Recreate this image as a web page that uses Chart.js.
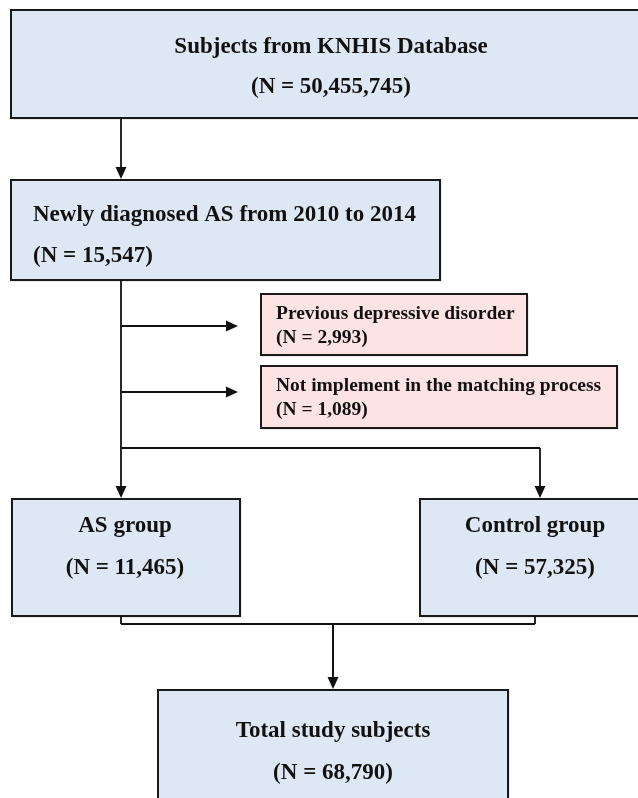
<!DOCTYPE html>
<html>
<head>
<meta charset="utf-8">
<script src="https://cdn.jsdelivr.net/npm/chart.js@4.4.1/dist/chart.umd.min.js"></script>
<style>
html,body{margin:0;padding:0;background:#fff;overflow:hidden;}
#c{display:block;}
</style>
</head>
<body>
<canvas id="c" width="638" height="798"></canvas>
<script>
// ---- data ----
const stepTitles = ["Subjects from KNHIS Database", "Newly diagnosed AS from 2010 to 2014", "AS group", "Control group", "Total study subjects"];
const stepCounts = ["50,455,745", "15,547", "11,465", "57,325", "68,790"];
const exclusionTitles = ["Previous depressive disorder", "Not implement in the matching process"];
const exclusionCounts = ["2,993", "1,089"];

// ---- layout (diagram coordinates on the hidden scales) ----
const stepBoxes = [
  {x0: 11, y0: 10, x1: 652, y1: 118, align: "center", tcx: 331, ty: [47, 87]},
  {x0: 11, y0: 180, x1: 440, y1: 280, align: "left", tx: 33, ty: [215, 256]},
  {x0: 12, y0: 499, x1: 240, y1: 616, align: "center", tcx: 125, ty: [526, 568]},
  {x0: 420, y0: 499, x1: 652, y1: 616, align: "center", tcx: 535, ty: [526, 568]},
  {x0: 158, y0: 690, x1: 508, y1: 810, align: "center", tcx: 333, ty: [731, 773]}
];
const exclBoxes = [
  {x0: 261, y0: 294, x1: 527, y1: 355, tx: 276, ty: [314, 338]},
  {x0: 261, y0: 366, x1: 617, y1: 428, tx: 276, ty: [386, 410]}
];
const lines = [
  [[121, 280], [121, 448]],
  [[121, 448], [540, 448]],
  [[121, 616], [121, 624]],
  [[535, 616], [535, 624]],
  [[121, 624], [535, 624]],
  [[333, 624], [333, 676]]
];
const arrows = [
  {from: [121, 118], to: [121, 179]},
  {from: [121, 326], to: [238, 326]},
  {from: [121, 392], to: [238, 392]},
  {from: [121, 448], to: [121, 498]},
  {from: [540, 448], to: [540, 498]},
  {from: [333, 624], to: [333, 689]}
];

const diagramPlugin = {
  id: "diagram",
  afterDatasetsDraw(chart) {
    const ctx = chart.ctx;
    const xs = chart.scales.x, ys = chart.scales.y;
    const X = v => xs.getPixelForValue(v);
    const Y = v => ys.getPixelForValue(v);
    ctx.save();
    const box = (b, fill) => {
      const x = X(b.x0), y = Y(b.y0), w = X(b.x1) - x, h = Y(b.y1) - y;
      ctx.fillStyle = "rgba(0,0,0,0.18)";
      ctx.fillRect(x + 1.5, y + 1.5, w, h);
      ctx.fillStyle = fill;
      ctx.fillRect(x, y, w, h);
      ctx.strokeStyle = "#1a1a1a";
      ctx.lineWidth = 2;
      ctx.strokeRect(x, y, w, h);
    };
    stepBoxes.forEach((b, i) => {
      box(b, "#dee8f5");
      ctx.fillStyle = "#111";
      ctx.font = "bold 23px 'Liberation Serif', 'Times New Roman', serif";
      ctx.textBaseline = "middle";
      let tx;
      if (b.align === "left") { ctx.textAlign = "left"; tx = X(b.tx); }
      else { ctx.textAlign = "center"; tx = X(b.tcx); }
      ctx.fillText(stepTitles[i], tx, Y(b.ty[0]));
      ctx.fillText("(N = " + stepCounts[i] + ")", tx, Y(b.ty[1]));
    });
    exclBoxes.forEach((b, i) => {
      box(b, "#fde3e3");
      ctx.fillStyle = "#111";
      ctx.font = "bold 19.5px 'Liberation Serif', 'Times New Roman', serif";
      ctx.textBaseline = "middle";
      ctx.textAlign = "left";
      ctx.fillText(exclusionTitles[i], X(b.tx), Y(b.ty[0]));
      ctx.fillText("(N = " + exclusionCounts[i] + ")", X(b.tx), Y(b.ty[1]));
    });
    ctx.strokeStyle = "#111";
    ctx.lineWidth = 1.8;
    lines.forEach(l => {
      ctx.beginPath();
      ctx.moveTo(X(l[0][0]), Y(l[0][1]));
      ctx.lineTo(X(l[1][0]), Y(l[1][1]));
      ctx.stroke();
    });
    arrows.forEach(a => {
      const x0 = X(a.from[0]), y0 = Y(a.from[1]), x1 = X(a.to[0]), y1 = Y(a.to[1]);
      const ang = Math.atan2(y1 - y0, x1 - x0);
      const hl = 12, hw = 5.5;
      const bx = x1 - hl * Math.cos(ang), by = y1 - hl * Math.sin(ang);
      ctx.beginPath();
      ctx.moveTo(x0, y0);
      ctx.lineTo(bx, by);
      ctx.stroke();
      ctx.beginPath();
      ctx.moveTo(x1, y1);
      ctx.lineTo(bx + hw * Math.sin(ang), by - hw * Math.cos(ang));
      ctx.lineTo(bx - hw * Math.sin(ang), by + hw * Math.cos(ang));
      ctx.closePath();
      ctx.fillStyle = "#111";
      ctx.fill();
    });
    ctx.restore();
  }
};

new Chart(document.getElementById("c"), {
  type: "scatter",
  data: { datasets: [{ data: [], pointRadius: 0 }] },
  options: {
    responsive: false,
    animation: false,
    layout: { padding: 0 },
    plugins: { legend: { display: false }, tooltip: { enabled: false } },
    scales: {
      x: { type: "linear", min: 0, max: 638, display: false },
      y: { type: "linear", min: 0, max: 798, reverse: true, display: false }
    }
  },
  plugins: [diagramPlugin]
});
</script>
</body>
</html>
